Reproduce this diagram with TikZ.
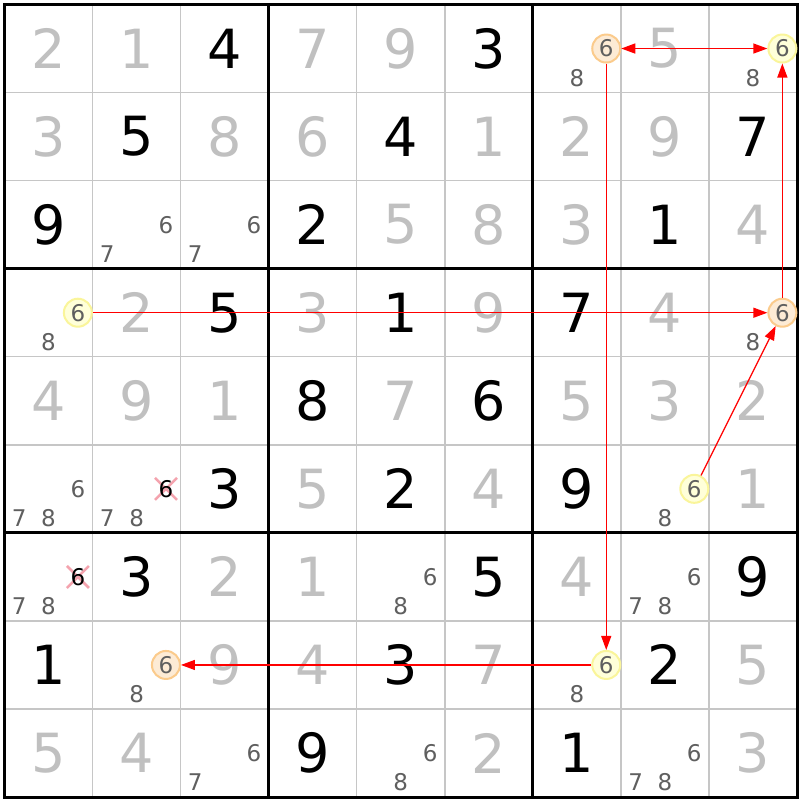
\documentclass[tikz,border=0pt]{standalone}
\usepackage{fontspec}
\setmainfont{DejaVu Sans}
\usetikzlibrary{arrows.meta}
\definecolor{givengrey}{HTML}{C0C0C0}
\definecolor{candgrey}{HTML}{5F5F5F}
\definecolor{gridgrey}{HTML}{C6C6C6}
\definecolor{yfill}{HTML}{FFFFD9}
\definecolor{ydraw}{HTML}{FAF59A}
\definecolor{ofill}{HTML}{FDEBD5}
\definecolor{odraw}{HTML}{FBCB8C}
\definecolor{crosscol}{HTML}{F4A3AE}
\newcommand\Gv[4]{\node[#4] (g#1#2) at ({4.5+(#2-0.5)*88.06},{4.5+(#1-0.5)*88.06}) {#3};}
\newcommand\Cd[4][cand]{\node[#1] (c#2#3#4) at ({4.5+(#3-1)*88.06+(mod(#4-1,3)+0.5)*29.353},{4.5+(#2-1)*88.06+(floor((#4-1)/3)+0.5)*29.353}) {#4};}
\newcommand\Xd[3]{\coordinate (x#1#2#3) at ({4.5+(#2-1)*88.06+(mod(#3-1,3)+0.5)*29.353},{4.5+(#1-1)*88.06+(floor((#3-1)/3)+0.5)*29.353});
  \draw[crossline] ([shift={(-11,-11)}]x#1#2#3) -- ([shift={(11,11)}]x#1#2#3);
  \draw[crossline] ([shift={(-11,11)}]x#1#2#3) -- ([shift={(11,-11)}]x#1#2#3);
  \node[cand,text=black] (c#1#2#3) at (x#1#2#3) {#3};}
\begin{document}
\begin{tikzpicture}[x=1pt,y=-1pt,
  gv/.style={font=\fontsize{54}{54}\selectfont, text=givengrey, inner sep=0},
  sv/.style={font=\fontsize{54}{54}\selectfont, text=black, inner sep=0},
  cand/.style={font=\fontsize{23}{23}\selectfont, text=candgrey, inner sep=0},
  ycirc/.style={cand, circle, draw=ydraw, fill=yfill, line width=2, minimum size=28},
  ocirc/.style={cand, circle, draw=odraw, fill=ofill, line width=2, minimum size=28},
  crossline/.style={draw=crosscol, line width=2.5},
  thinline/.style={draw=gridgrey, line width=1.5},
  thickline/.style={draw=black, line width=3},
  arr/.style={draw=red, line width=1.3, -{Triangle[length=14,width=10]}},
  darr/.style={draw=red, line width=1.3, {Triangle[length=14,width=10]}-{Triangle[length=14,width=10]}}]
\useasboundingbox (0,0) rectangle (800,800);
\fill[white] (0,0) rectangle (800,800);
% grid
\foreach \i in {1,2,4,5,7,8} {
  \draw[thinline] ({4.5+\i*88.06},4.5) -- ({4.5+\i*88.06},797.04);
  \draw[thinline] (4.5,{4.5+\i*88.06}) -- (797.04,{4.5+\i*88.06});
}
\foreach \i in {3,6} {
  \draw[thickline] ({4.5+\i*88.06},4.5) -- ({4.5+\i*88.06},797.04);
  \draw[thickline] (4.5,{4.5+\i*88.06}) -- (797.04,{4.5+\i*88.06});
}
\draw[thickline] (4.5,4.5) rectangle (797.04,797.04);
% row 1
\Gv{1}{1}{2}{gv} \Gv{1}{2}{1}{gv} \Gv{1}{3}{4}{sv} \Gv{1}{4}{7}{gv} \Gv{1}{5}{9}{gv} \Gv{1}{6}{3}{sv}
\Cd[ocirc]{1}{7}{6} \Cd{1}{7}{8} \Gv{1}{8}{5}{gv} \Cd[ycirc]{1}{9}{6} \Cd{1}{9}{8}
% row 2
\Gv{2}{1}{3}{gv} \Gv{2}{2}{5}{sv} \Gv{2}{3}{8}{gv} \Gv{2}{4}{6}{gv} \Gv{2}{5}{4}{sv} \Gv{2}{6}{1}{gv} \Gv{2}{7}{2}{gv} \Gv{2}{8}{9}{gv} \Gv{2}{9}{7}{sv}
% row 3
\Gv{3}{1}{9}{sv} \Cd{3}{2}{6} \Cd{3}{2}{7} \Cd{3}{3}{6} \Cd{3}{3}{7} \Gv{3}{4}{2}{sv} \Gv{3}{5}{5}{gv} \Gv{3}{6}{8}{gv} \Gv{3}{7}{3}{gv} \Gv{3}{8}{1}{sv} \Gv{3}{9}{4}{gv}
% row 4
\Cd[ycirc]{4}{1}{6} \Cd{4}{1}{8} \Gv{4}{2}{2}{gv} \Gv{4}{3}{5}{sv} \Gv{4}{4}{3}{gv} \Gv{4}{5}{1}{sv} \Gv{4}{6}{9}{gv} \Gv{4}{7}{7}{sv} \Gv{4}{8}{4}{gv} \Cd[ocirc]{4}{9}{6} \Cd{4}{9}{8}
% row 5
\Gv{5}{1}{4}{gv} \Gv{5}{2}{9}{gv} \Gv{5}{3}{1}{gv} \Gv{5}{4}{8}{sv} \Gv{5}{5}{7}{gv} \Gv{5}{6}{6}{sv} \Gv{5}{7}{5}{gv} \Gv{5}{8}{3}{gv} \Gv{5}{9}{2}{gv}
% row 6
\Cd{6}{1}{6} \Cd{6}{1}{7} \Cd{6}{1}{8} \Xd{6}{2}{6} \Cd{6}{2}{7} \Cd{6}{2}{8} \Gv{6}{3}{3}{sv} \Gv{6}{4}{5}{gv} \Gv{6}{5}{2}{sv} \Gv{6}{6}{4}{gv} \Gv{6}{7}{9}{sv} \Cd[ycirc]{6}{8}{6} \Cd{6}{8}{8} \Gv{6}{9}{1}{gv}
% row 7
\Xd{7}{1}{6} \Cd{7}{1}{7} \Cd{7}{1}{8} \Gv{7}{2}{3}{sv} \Gv{7}{3}{2}{gv} \Gv{7}{4}{1}{gv} \Cd{7}{5}{6} \Cd{7}{5}{8} \Gv{7}{6}{5}{sv} \Gv{7}{7}{4}{gv} \Cd{7}{8}{6} \Cd{7}{8}{7} \Cd{7}{8}{8} \Gv{7}{9}{9}{sv}
% row 8
\Gv{8}{1}{1}{sv} \Cd[ocirc]{8}{2}{6} \Cd{8}{2}{8} \Gv{8}{3}{9}{gv} \Gv{8}{4}{4}{gv} \Gv{8}{5}{3}{sv} \Gv{8}{6}{7}{gv} \Cd[ycirc]{8}{7}{6} \Cd{8}{7}{8} \Gv{8}{8}{2}{sv} \Gv{8}{9}{5}{gv}
% row 9
\Gv{9}{1}{5}{gv} \Gv{9}{2}{4}{gv} \Cd{9}{3}{6} \Cd{9}{3}{7} \Gv{9}{4}{9}{sv} \Cd{9}{5}{6} \Cd{9}{5}{8} \Gv{9}{6}{2}{gv} \Gv{9}{7}{1}{sv} \Cd{9}{8}{6} \Cd{9}{8}{7} \Cd{9}{8}{8} \Gv{9}{9}{3}{gv}
% arrows
\draw[darr] (c176) -- (c196);
\draw[arr] (c176) -- (c876);
\draw[arr] (c496) -- (c196);
\draw[arr] (c416) -- (c496);
\draw[arr] (c686) -- (c496);
\draw[arr] (c876) -- (c826);
\end{tikzpicture}
\end{document}
